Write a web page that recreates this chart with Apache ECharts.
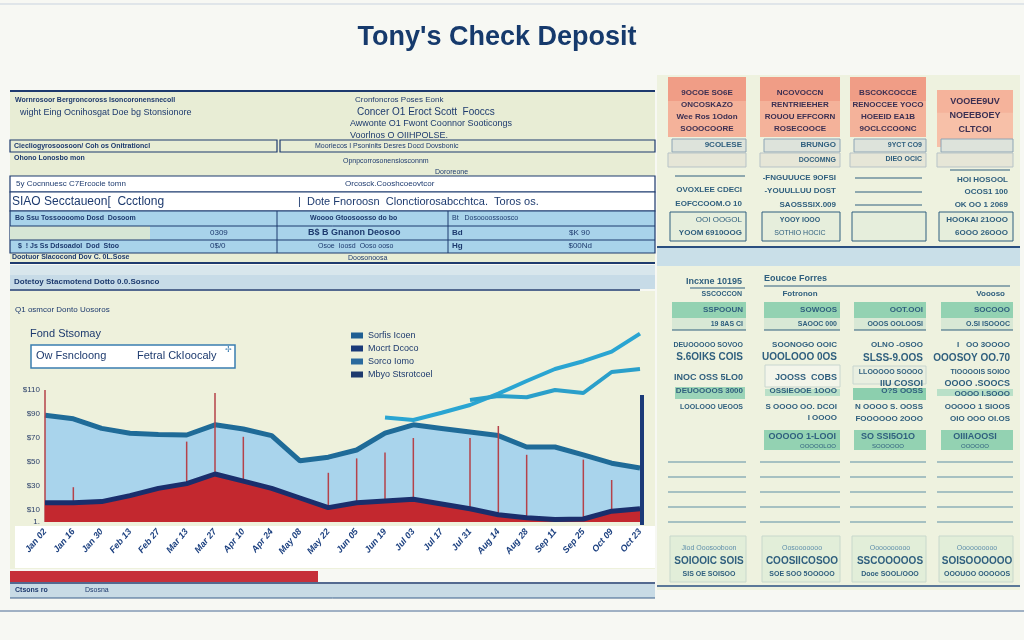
<!DOCTYPE html>
<html><head><meta charset="utf-8">
<script src="https://cdn.jsdelivr.net/npm/echarts@6/dist/echarts.min.js"></script>
<style>html,body{margin:0;padding:0;background:#f7f8f3;}#c{width:1024px;height:640px;}</style>
</head><body><div id="c"></div>
<script>
const categories = ['Jan 02','Jan 16','Jan 30','Feb 13','Feb 27','Mar 13','Mar 27','Apr 10','Apr 24','May 08','May 22','Jun 05','Jun 19','Jul 03','Jul 17','Jul 31','Aug 14','Aug 28','Sep 11','Sep 25','Oct 09','Oct 23'];
const balanceValues = [89,86,78,74,73,72.5,81,77.5,72,51,54,60,74,81,78,75,72,62.5,62.5,56,49,45];
const depositValues = [16,16,17,22,28,32,40,34,28,20,12,16,17.5,19,15,11,6,3.5,2,2.5,9,11];
const spikeValues = [110,29,'-','-','-',67,107.5,71,'-','-',41,53,58,70,'-',70,80,56,'-',52,35,'-'];
const trendAValues = ['-','-','-','-','-','-','-','-','-','-','-','-',87,85,91,97.5,107,117.5,127.5,134,142,157];
const trendBValues = ['-','-','-','-','-','-','-','-','-','-','-','-','-','-','-',101.7,105,104,110,107.5,125,127.5];
const yTickLabels = [0,10,30,50,70,90,110];
const seriesNames = ['Sorfis Icoen','Mocrt Dcoco','Sorco Iomo','Mbyo Stsrotcoel'];

const NAVY = '#1d3a6e', TEAL = '#2f5f7e', FF = 'Liberation Sans';
function R(x,y,w,h,fill,stroke,lw){return {type:'rect',silent:true,shape:{x:x,y:y,width:w,height:h},style:{fill:fill||'none',stroke:stroke||null,lineWidth:lw||1}};}
function T(x,y,text,size,o){o=o||{};return {type:'text',silent:true,x:x,y:y,z:5,style:{text:text,fontSize:size,fontFamily:FF,fontWeight:o.w||'bold',fill:o.c||NAVY,textAlign:o.a||'left',textVerticalAlign:'middle'}};}
function L(x1,y1,x2,y2,c,w){return {type:'line',silent:true,shape:{x1:x1,y1:y1,x2:x2,y2:y2},style:{stroke:c||NAVY,lineWidth:w||1}};}

const g = [];
// page frame
g.push(L(0,4,1024,4,'#c9d3df',1));
g.push(T(497,38,"Tony's Check Deposit",27,{a:'center',c:'#163a6c'}));
// ---------- top-left table panel
g.push(R(10,91,645,171,'#e8edd5'));
g.push(L(10,91,655,91,NAVY,2));
g.push(T(15,100,'Wornrosoor Bergroncoross Isoncoronensnecoll',7));
g.push(T(20,113,'wight Eing Ocnihosgat Doe bg Stonsionore',9,{w:'normal'}));
g.push(T(355,100,'Cronfoncros Poses Eonk',8,{w:'normal'}));
g.push(T(357,112,'Concer O1 Eroct Scott  Fooccs',10,{w:'normal'}));
g.push(T(350,124,'Awwonte O1 Fwont Coonnor Sooticongs',9,{w:'normal'}));
g.push(T(350,136,'Voorlnos O OIIHPOLSE.',9,{w:'normal'}));
// row A
g.push(R(10,140,267,12,'#e8edd5',NAVY,1.2));
g.push(R(280,140,375,12,'#e8edd5',NAVY,1.2));
g.push(T(14,146,'Ciecliogyrosoosoon/ Coh os Onitrationcl',7));
g.push(T(315,146,'Mooriecos I Psoninits Desres Docd Dovsbonic',7,{w:'normal'}));
// row B
g.push(T(14,158,'Ohono Lonosbo mon',7));
g.push(T(343,161,'Opnpcorrosonensiosconnm',7,{w:'normal'}));
g.push(T(435,172,'Dororeone',7,{w:'normal'}));
// row C
g.push(R(10,176,645,16,'#ffffff',NAVY,1.2));
g.push(T(16,184,'5y Cocnnuesc C7Ercocie tomn',8,{w:'normal'}));
g.push(T(345,184,'Orcosck.Cooshcoeovtcor',8,{w:'normal'}));
// row D
g.push(R(10,192,645,19,'#ffffff',NAVY,1.2));
g.push(T(12,202,'SIAO Secctaueon[  Ccctlong',12,{w:'normal'}));
g.push(T(298,202,'|  Dote Fnoroosn  Clonctiorosabcchtca.  Toros os.',11,{w:'normal'}));
// rows E-G blue
g.push(R(10,211,645,42,'#a8d3ea',NAVY,1.2));
g.push(R(10,226,140,14,'#d6e6d5'));
g.push(L(10,226,655,226,NAVY,1));
g.push(L(10,240,655,240,NAVY,1));
g.push(L(277,211,277,253,NAVY,1));
g.push(L(448,211,448,253,NAVY,1));
g.push(T(15,218,'Bo Ssu Tossoooomo Dosd  Dosoom',7));
g.push(T(310,218,'Woooo Gtoosoosso do bo',7));
g.push(T(452,218,'Bt   Dosoooossoosco',7,{w:'normal'}));
g.push(T(210,233,'0309',8,{w:'normal'}));
g.push(T(308,233,'B$ B Gnanon Deosoo',9));
g.push(T(452,233,'Bd',8));
g.push(T(590,233,'$K 90',8,{w:'normal',a:'right'}));
g.push(T(18,246,'$  ! Js Ss Ddsoadol  Dod  Stoo',7));
g.push(T(210,246,'0$/0',8,{w:'normal'}));
g.push(T(318,246,'Osoe  Ioosd  Ooso ooso',7,{w:'normal'}));
g.push(T(452,246,'Hg',8));
g.push(T(592,246,'$00Nd',8,{w:'normal',a:'right'}));
g.push(T(12,257,'Dootuor Slacocond Dov C. 0L.Sose',7));
g.push(T(348,258,'Doosonoosa',7,{w:'normal'}));
g.push(L(10,263,655,263,NAVY,2));
g.push(R(10,265,645,10,'#d8e6ec'));
g.push(R(10,275,645,14,'#c7dbe7'));
g.push(T(14,282,'Dotetoy Stacmotend Dotto 0.0.Sosnco',8));
g.push(L(10,290,640,290,NAVY,1.5));
// ---------- chart panel
g.push(R(10,291,645,278,'#eef1dc'));
g.push(T(15,310,'Q1 osmcor Donto Uosoros',8,{w:'normal'}));
g.push(T(30,334,'Fond Stsomay',11,{w:'normal'}));
g.push(R(31,345,204,23,'#ffffff','#3a7db0',1.5));
g.push(T(36,356,'Ow Fsncloong',11,{w:'normal'}));
g.push(T(137,356,'Fetral CkIoocaly',11,{w:'normal'}));
g.push(T(225,350,'\u2722',8,{w:'normal',c:'#3a7db0'}));
g.push(R(15,526,640,42,'#ffffff'));
g.push(R(10,571,308,11,'#c6303a'));
g.push(L(10,583,655,583,NAVY,1.5));
g.push(R(10,584,645,14,'#c8dbe5'));
g.push(T(15,590,'Ctsons ro',7));
g.push(T(85,590,'Dsosna',7,{w:'normal'}));
g.push(L(10,598,655,598,'#3a5f8a',1));
g.push(L(0,611,1024,611,'#4b6a94',1));
g.push({type:'rect',silent:true,z:30,shape:{x:640,y:395,width:4,height:130},style:{fill:'#1b3a78'}});
// ---------- right panel
g.push(R(657,75,363,515,'#eef2df'));
const cols = [{x:668,w:78},{x:760,w:80},{x:850,w:76},{x:937,w:76}];
const salmon = [
 ['9OCOE SO6E','ONCOSKAZO','Wee Ros 1Odon','SOOOCOORE'],
 ['NCOVOCCN','RENTRIEEHER','ROUOU EFFCORN','ROSECOOCE'],
 ['BSCOKCOCCE','RENOCCEE YOCO','HOEEID EA1B','9OCLCCOONC'],
 ['VOOEE9UV','NOEEBOEY','CLTCOI']];
cols.forEach(function(c,i){
  const top = i===3?90:77, h = i===3?57:60;
  g.push(R(c.x,top,c.w,h,i===3?'#f7c0a8':'#f4b29a'));
  g.push(R(c.x,top,c.w,h*0.4,i===3?'#f5b39b':'#f09d86'));
  const lines = salmon[i];
  lines.forEach(function(s,k){g.push(T(c.x+c.w/2,top+(i===3?12:16)+k*(i===3?14:12),s,i===3?9:8,{a:'center',c:'#3b2f52'}));});
  g.push(R(c.x+4,139,c.w-4,13,'#dde3db','#8ea5b5',1));
  g.push(R(c.x,153,c.w,14,'#e6e6d7','#b7c3c7',1));
  g.push(R(c.x+2,212,c.w-2,29,'#e6eedc',TEAL,1));
});
g.push(T(742,145,'9COLESE',8,{a:'right',c:TEAL}));
g.push(T(836,145,'BRUNGO',8,{a:'right',c:TEAL}));
g.push(T(836,160,'DOCOMNG',7,{a:'right',c:TEAL}));
g.push(T(922,145,'9YCT CO9',7,{a:'right',c:TEAL}));
g.push(T(922,159,'DIEO OCIC',7,{a:'right',c:TEAL}));
g.push(L(675,176,745,176,TEAL,1));g.push(L(950,170,1010,170,TEAL,1));
g.push(L(855,178,922,178,TEAL,1));g.push(L(855,192,922,192,TEAL,1));g.push(L(855,205,922,205,TEAL,1));
g.push(T(742,190,'OVOXLEE CDECI',8,{a:'right',c:TEAL}));
g.push(T(742,204,'EOFCCOOM.O 10',8,{a:'right',c:TEAL}));
g.push(T(742,220,'OOI OOGOL',8,{a:'right',c:TEAL,w:'normal'}));
g.push(T(742,233,'YOOM 6910OOG',8,{a:'right',c:TEAL}));
g.push(T(836,178,'-FNGUUUCE 9OFSI',8,{a:'right',c:TEAL}));
g.push(T(836,191,'-YOUULLUU DOST',8,{a:'right',c:TEAL}));
g.push(T(836,205,'SAOSSSIX.009',8,{a:'right',c:TEAL}));
g.push(T(800,220,'YOOY IOOO',7,{a:'center',c:TEAL}));
g.push(T(800,233,'SOTHIO HOCIC',7,{a:'center',c:TEAL,w:'normal'}));
g.push(T(1008,180,'HOI HOSOOL',8,{a:'right',c:TEAL}));
g.push(T(1008,192,'OCOS1 100',8,{a:'right',c:TEAL}));
g.push(T(1008,205,'OK OO 1 2069',8,{a:'right',c:TEAL}));
g.push(T(1008,220,'HOOKAI 21OOO',8,{a:'right',c:TEAL}));
g.push(T(1008,233,'6OOO 26OOO',8,{a:'right',c:TEAL}));
g.push(L(657,247,1020,247,'#2a4f80',2));
g.push(R(657,248,363,18,'#c9dfe8'));
// lower right
g.push(T(742,282,'Incxne 10195',9,{a:'right',c:TEAL}));
g.push(L(690,288,745,288,TEAL,1));
g.push(T(742,294,'SSCOCCON',7,{a:'right',c:TEAL}));
g.push(T(764,279,'Eoucoe Forres',9,{c:TEAL}));
g.push(L(764,286,1010,286,TEAL,1));
g.push(T(800,294,'Fotronon',8,{a:'center',c:TEAL}));
g.push(T(1005,294,'Voooso',8,{a:'right',c:TEAL}));
const greenTop = ['SSPOOUN','SOWOOS','OOT.OOI','SOCOOO'];
const greenSub = ['19 8AS CI','SAOOC 000','OOOS OOLOOSI','O.SI ISOOOC'];
cols.forEach(function(c,i){
  g.push(R(c.x+4,302,c.w-4,16,'#93d2b2'));
  g.push(R(c.x+4,318,c.w-4,12,'#d8e8d5'));
  g.push(L(c.x+4,330,c.x+c.w,330,TEAL,1.2));
  g.push(T(c.x+c.w-3,310,greenTop[i],8,{a:'right',c:TEAL}));
  g.push(T(c.x+c.w-3,324,greenSub[i],7,{a:'right',c:TEAL}));
  [462,477,492,507,522].forEach(function(y){g.push(L(c.x,y,c.x+c.w,y,'#5e8fa5',1));});
  g.push(R(c.x+2,536,c.w-2,46,'#e2eed9','#c8d8cc',1));
});
const rowsRight = [
 [['DEUOOOOO SOVOO',345,7],['S.6OIKS COIS',357,10],['INOC OSS 5LO0',378,9],['DEUOOOOS 3000',391,8],['LOOLOOO UEOOS',407,7]],
 [['SOONOGO OOIC',345,8],['UOOLOOO 0OS',357,10],['JOOSS  COBS',378,9],['OSSIEOOE 1OOO',391,8],['S OOOO OO. DCOI',407,8],['I OOOO',418,8]],
 [['OLNO -OSOO',345,8],['SLSS-9.OOS',358,10],['LLOOOOO SOOOO',372,7],['IIU COSOI',384,9],['O?S OOSS',391,8],['N OOOO S. OOSS',407,8],['FOOOOOO 2OOO',419,8]],
 [['I   OO 3OOOO',345,8],['OOOSOY OO.70',358,10],['TIOOOOIS SOIOO',372,7],['OOOO .SOOCS',384,9],['OOOO I.SOOO',394,8],['OOOOO 1 SIOOS',407,8],['OIO OOO OI.OS',419,8]]];
g.push(R(675,387,70,12,'#9bd4b8'));
g.push(R(765,389,75,7,'#b9e0c8'));
g.push(R(853,366,73,18,'#e9efe0','#c8d6cf',1));
g.push(R(853,388,73,12,'#8ccfae'));
g.push(R(937,389,76,7,'#b9e0c8'));
g.push(R(765,365,75,22,'#f3f5ea','#c8d6cf',1));
[1,2,3].forEach(function(i){const c=cols[i];g.push(R(c.x+4,430,c.w-4,20,'#93d2b2'));});
g.push(T(836,437,'OOOOO 1-LOOI',9,{a:'right',c:TEAL}));
g.push(T(836,446,'OOOOOLOO',6,{a:'right',c:TEAL,w:'normal'}));
g.push(T(888,437,'SO SSI5O1O',9,{a:'center',c:TEAL}));
g.push(T(888,446,'SOOOOOO',6,{a:'center',c:TEAL,w:'normal'}));
g.push(T(975,437,'OIIIAOOSI',9,{a:'center',c:TEAL}));
g.push(T(975,446,'OOOOOO',6,{a:'center',c:TEAL,w:'normal'}));
rowsRight.forEach(function(rr,i){const c=cols[i];rr.forEach(function(r){g.push(T(c.x+c.w-3,r[1],r[0],r[2],{a:'right',c:TEAL}));});});
const bottomT = [['Jiod Ooosooboon','SOIOOIC SOIS','SIS OE SOISOO'],['Oosooooooo','COOSIICOSOO','SOE SOO 5OOOOO'],['Oooooooooo','SSCOOOOOS','Dooe SOOL/OOO'],['Oooooooooo','SOISOOOOOO','OOOUOO OOOOOS']];
cols.forEach(function(c,i){
  g.push(T(c.x+c.w/2+2,548,bottomT[i][0],7,{a:'center',c:'#5f8fab',w:'normal'}));
  g.push(T(c.x+c.w/2+2,561,bottomT[i][1],10,{a:'center',c:TEAL}));
  g.push(T(c.x+c.w/2+2,574,bottomT[i][2],7,{a:'center',c:TEAL}));
});
g.push(L(657,586,1020,586,'#2a4f80',1.5));

const chart = echarts.init(document.getElementById('c'));
chart.setOption({
  backgroundColor:'#f7f8f3',
  animation:false,
  graphic:{elements:g},
  grid:{left:45,right:384,top:330,bottom:118,containLabel:false},
  legend:{orient:'vertical',left:346,top:326,itemWidth:12,itemHeight:6,itemGap:4,icon:'rect',
    data:seriesNames,textStyle:{fontSize:9,color:NAVY,fontFamily:FF}},
  xAxis:{type:'category',data:categories,boundaryGap:false,
    axisLine:{show:false},axisTick:{show:false},
    axisLabel:{interval:0,rotate:50,fontSize:9,fontStyle:'italic',fontWeight:'bold',color:'#1d4180',margin:8,fontFamily:FF}},
  yAxis:{type:'value',min:0,max:160,interval:10,splitLine:{show:false},axisLine:{show:false},axisTick:{show:false},
    axisLabel:{fontSize:8,color:'#2a3f6a',margin:5,fontFamily:FF,
      formatter:function(v){return yTickLabels.indexOf(v)>=0?(v===0?'1.':'$'+v):'';}}},
  series:[
    {name:seriesNames[0],type:'line',data:balanceValues,symbol:'none',z:2,
      lineStyle:{color:'#1f6b98',width:5},itemStyle:{color:'#1f5f92'},areaStyle:{color:'#a9d4ec',opacity:1}},
    {name:'spikes',type:'bar',data:spikeValues,barWidth:1.5,z:3,itemStyle:{color:'#b5424a'}},
    {name:seriesNames[1],type:'line',data:depositValues,symbol:'none',z:4,
      lineStyle:{color:'#1a2e6c',width:5},itemStyle:{color:'#1a3a78'},areaStyle:{color:'#c3282f',opacity:1}},
    {name:seriesNames[2],type:'line',data:trendAValues,symbol:'none',z:5,
      lineStyle:{color:'#2aa5d2',width:4},itemStyle:{color:'#2a6a9e'}},
    {name:seriesNames[3],type:'line',data:trendBValues,symbol:'none',z:5,
      lineStyle:{color:'#2a9fca',width:4},itemStyle:{color:'#1d3a6e'}}
  ]
});
</script></body></html>
